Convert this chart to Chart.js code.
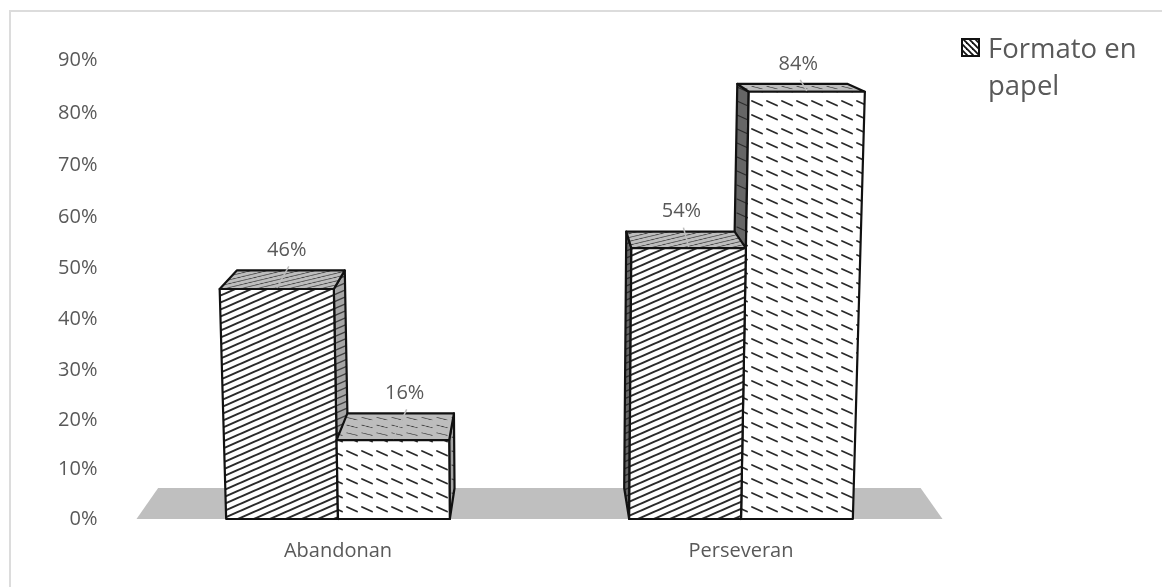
<!DOCTYPE html>
<html lang="es">
<head>
    <meta charset="UTF-8">
    <title>Formato en papel</title>
    <script src="https://cdn.jsdelivr.net/npm/chart.js@4"></script>
    <style>
        html, body { margin: 0; background: #fff; overflow: hidden; }
        #wrap { width: 1162px; height: 587px; }
    </style>
</head>
<body>
    <div id="wrap"><canvas id="myChart" width="1162" height="587"></canvas></div>
    <script>
        const categories = ['Abandonan', 'Perseveran'];
        const serieA = [46, 54];
        const serieB = [16, 84];
        const yTicks = [0, 10, 20, 30, 40, 50, 60, 70, 80, 90];
        const legendLines = ['Formato en', 'papel'];

        const TEXT = '#595959';
        const FONT = '"Open Sans", sans-serif';

        // Vanishing point and depth of the 3D box
        const VX = 537, VY = -55, DEPTH = 0.946;
        const LEAN = 9e-5;
        const CURVE = 0.0393;

        // Linear axis with the foreshortening of a tilted 3D view
        class PerspectiveScale extends Chart.LinearScale {
            getPixelForDecimal(d) {
                return super.getPixelForDecimal(d * (1 - CURVE) / (1 - CURVE * d));
            }
        }
        PerspectiveScale.id = 'perspective';
        PerspectiveScale.defaults = Chart.LinearScale.defaults;
        Chart.register(PerspectiveScale);

        function toBack(p) {
            return { x: VX + (p.x - VX) * DEPTH, y: VY + (p.y - VY) * DEPTH };
        }

        function poly(ctx, pts) {
            ctx.beginPath();
            pts.forEach((p, i) => i ? ctx.lineTo(p.x, p.y) : ctx.moveTo(p.x, p.y));
            ctx.closePath();
        }

        // Long diagonal hatch of the first series
        function hatchPattern(ctx, color, width, sy) {
            const c = document.createElement('canvas');
            c.width = 16; c.height = 7;
            const g = c.getContext('2d');
            g.strokeStyle = color;
            g.lineWidth = width;
            [-7, 0, 7].forEach(o => {
                g.beginPath();
                g.moveTo(-4, 8.75 + o);
                g.lineTo(20, -1.75 + o);
                g.stroke();
            });
            const p = ctx.createPattern(c, 'repeat');
            p.setTransform(new DOMMatrix().scale(1, sy));
            return p;
        }

        // Short dashes of the second series
        function dashPattern(ctx, color, width, sy) {
            const c = document.createElement('canvas');
            c.width = 15; c.height = 14;
            const g = c.getContext('2d');
            g.strokeStyle = color;
            g.lineWidth = width;
            g.lineCap = 'round';
            g.beginPath();
            g.moveTo(2, 3);
            g.lineTo(12, 7.5);
            g.stroke();
            const p = ctx.createPattern(c, 'repeat');
            p.setTransform(new DOMMatrix().scale(1, sy));
            return p;
        }

        function fillFace(ctx, pts, base, pattern) {
            poly(ctx, pts);
            ctx.fillStyle = base;
            ctx.fill();
            ctx.fillStyle = pattern;
            ctx.fill();
            ctx.strokeStyle = '#111';
            ctx.lineWidth = 2.2;
            ctx.lineJoin = 'round';
            ctx.stroke();
        }

        function drawBar(ctx, bar, patterns) {
            const left = bar.x - bar.width / 2;
            const right = bar.x + bar.width / 2;
            const h = bar.base - bar.y;
            const leanX = x => x + (x - 540) * LEAN * h;

            const bl = { x: left, y: bar.base }, br = { x: right, y: bar.base };
            const tl = { x: leanX(left), y: bar.y }, tr = { x: leanX(right), y: bar.y };

            // only the side facing the vanishing point shows
            if (right < VX) {
                fillFace(ctx, [tr, toBack(tr), toBack(br), br], '#a6a6a6', patterns.side);
            } else {
                fillFace(ctx, [tl, toBack(tl), toBack(bl), bl], '#666666', patterns.side);
            }
            fillFace(ctx, [tl, tr, toBack(tr), toBack(tl)], '#bdbdbd', patterns.top);
            fillFace(ctx, [bl, br, tr, tl], '#ffffff', patterns.front);
        }

        const box3d = {
            id: 'box3d',
            beforeDatasetsDraw(chart) {
                const { ctx, chartArea: a, scales } = chart;
                const y0 = scales.y.getPixelForValue(0);
                const l = { x: a.left, y: y0 }, r = { x: a.right, y: y0 };
                ctx.save();
                poly(ctx, [l, r, toBack(r), toBack(l)]);
                ctx.fillStyle = '#bfbfbf';
                ctx.fill();
                ctx.restore();
            },
            afterDatasetsDraw(chart) {
                const ctx = chart.ctx;
                const pats = [
                    {
                        front: hatchPattern(ctx, '#2a2a2a', 2, 1),
                        top: hatchPattern(ctx, 'rgba(20,20,20,.7)', 1.3, 0.55),
                        side: hatchPattern(ctx, 'rgba(20,20,20,.7)', 1.3, 1)
                    },
                    {
                        front: dashPattern(ctx, '#2a2a2a', 1.9, 1),
                        top: dashPattern(ctx, 'rgba(20,20,20,.8)', 1.3, 0.55),
                        side: dashPattern(ctx, 'rgba(20,20,20,.7)', 1.2, 1)
                    }
                ];
                const a = chart.getDatasetMeta(0).data;
                const b = chart.getDatasetMeta(1).data;
                ctx.save();
                // painter's order: left group left to right, right group right to left
                drawBar(ctx, a[0], pats[0]);
                drawBar(ctx, b[0], pats[1]);
                drawBar(ctx, b[1], pats[1]);
                drawBar(ctx, a[1], pats[0]);

                // value labels above the boxes, with their leader lines
                const nudges = [[-4, 1], [4, 6]];
                chart.data.datasets.forEach((ds, di) => {
                    chart.getDatasetMeta(di).data.forEach((bar, i) => {
                        const h = bar.base - bar.y;
                        const fx = bar.x + (bar.x - 540) * LEAN * h;
                        const back = toBack({ x: fx, y: bar.y });
                        const lx = back.x + nudges[di][i];
                        ctx.strokeStyle = '#bdbdbd';
                        ctx.lineWidth = 1.5;
                        ctx.beginPath();
                        ctx.moveTo(lx + 2, back.y - 4);
                        ctx.lineTo(fx, bar.y - 1);
                        ctx.stroke();
                        ctx.fillStyle = TEXT;
                        ctx.font = '20px ' + FONT;
                        ctx.textAlign = 'center';
                        ctx.textBaseline = 'middle';
                        ctx.fillText(ds.data[i] + '%', lx, back.y - 20);
                    });
                });
                ctx.restore();
            },
            afterDraw(chart) {
                const ctx = chart.ctx;
                ctx.save();
                // frame, only top and left edges fall inside the canvas
                ctx.strokeStyle = '#dcdcdc';
                ctx.lineWidth = 2;
                ctx.beginPath();
                ctx.moveTo(10, 587);
                ctx.lineTo(10, 11);
                ctx.lineTo(1162, 11);
                ctx.stroke();

                // legend
                const c = document.createElement('canvas');
                c.width = 6; c.height = 6;
                const g = c.getContext('2d');
                g.strokeStyle = '#111';
                g.lineWidth = 1.8;
                [-6, 0, 6].forEach(o => {
                    g.beginPath();
                    g.moveTo(o - 1, -1);
                    g.lineTo(o + 7, 7);
                    g.stroke();
                });
                ctx.fillStyle = '#fff';
                ctx.fillRect(962, 39, 17, 17);
                ctx.fillStyle = ctx.createPattern(c, 'repeat');
                ctx.fillRect(962, 39, 17, 17);
                ctx.strokeStyle = '#111';
                ctx.lineWidth = 2;
                ctx.strokeRect(962, 39, 17, 17);

                ctx.fillStyle = TEXT;
                ctx.font = '27.5px ' + FONT;
                ctx.textAlign = 'left';
                ctx.textBaseline = 'alphabetic';
                legendLines.forEach((t, i) => ctx.fillText(t, 988, 58 + i * 37));
                ctx.restore();
            }
        };

        new Chart(document.getElementById('myChart'), {
            type: 'bar',
            data: {
                labels: categories,
                datasets: [
                    { label: legendLines.join(' '), data: serieA, backgroundColor: 'transparent' },
                    { label: 'Serie 2', data: serieB, backgroundColor: 'transparent' }
                ]
            },
            plugins: [box3d],
            options: {
                responsive: false,
                animation: false,
                layout: { padding: { left: 0, right: 219.5, top: 60, bottom: 0 } },
                datasets: { bar: { barPercentage: 1, categoryPercentage: 0.555 } },
                plugins: { legend: { display: false }, tooltip: { enabled: false } },
                scales: {
                    x: {
                        grid: { display: false },
                        border: { display: false },
                        afterFit: s => { s.height = 68; },
                        ticks: { color: TEXT, font: { family: FONT, size: 20 }, padding: 12, maxRotation: 0 }
                    },
                    y: {
                        type: 'perspective',
                        min: 0,
                        max: 90,
                        grid: { display: false },
                        border: { display: false },
                        afterFit: s => { s.width = 136.5; },
                        afterBuildTicks: s => { s.ticks = yTicks.map(v => ({ value: v })); },
                        ticks: {
                            color: TEXT,
                            font: { family: FONT, size: 20 },
                            padding: 31,
                            callback: v => v + '%'
                        }
                    }
                }
            }
        });
    </script>
</body>
</html>
